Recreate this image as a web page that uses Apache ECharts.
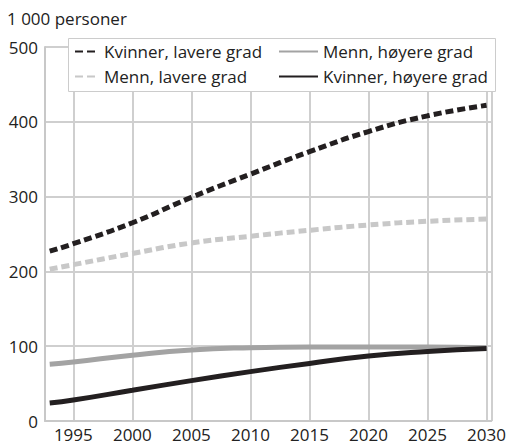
<!DOCTYPE html>
<html><head><meta charset="utf-8">
<script src="https://cdn.jsdelivr.net/npm/echarts@6/dist/echarts.min.js"></script>
<style>html,body{margin:0;padding:0;background:#fff}#c{width:509px;height:447px}</style>
</head><body><div id="c"></div>
<script>
const years = [1993, 1995, 2000, 2005, 2010, 2015, 2020, 2025, 2030];
const kvinnerLavere = [227, 237, 265, 299, 330, 360, 387, 408, 422];
const mennLavere = [203, 209, 224, 238, 247, 255, 262, 267, 270];
const mennHoyere = [76, 79, 88, 95, 98, 99, 99, 99, 98];
const kvinnerHoyere = [24, 28, 41, 54, 66, 77, 87, 93, 97];
const xRange = [1992.6, 2030.4];
const xStep = 5;
const yTicks = [0, 100, 200, 300, 400, 500];

const pair = arr => years.map((y, i) => [y, arr[i]]);
const font = '"Open Sans", sans-serif';
const chart = echarts.init(document.getElementById('c'), null, { renderer: 'svg' });
const mk = (name, data, color, type) => ({
  name, type: 'line', data: pair(data), smooth: true, symbol: 'none',
  lineStyle: { color, width: 5, type: type, cap: 'butt' },
  itemStyle: { color }
});
const legTxt = { fontSize: 17, color: '#222', fontFamily: font };
const gridLine = () => ({ show: true, lineStyle: { color: '#cfcfcf', width: 2 } });
chart.setOption({
  animation: false,
  textStyle: { fontFamily: font },
  title: { text: '1 000 personer', left: 7, top: 10, padding: 0, textStyle: { fontSize: 17, fontWeight: 'normal', color: '#222', fontFamily: font } },
  grid: { left: 45, right: 14, top: 47, bottom: 26 },
  graphic: [{ type: 'rect', left: 68, top: 38, shape: { width: 427, height: 53 }, style: { fill: '#fff', stroke: '#ccc', lineWidth: 1 }, z: 50 }],
  legend: [
    { data: ['Kvinner, lavere grad', 'Menn, lavere grad'], orient: 'vertical', left: 74, top: 43, padding: 0, itemWidth: 24, itemHeight: 14, itemGap: 8, z: 60,
      itemStyle: { opacity: 0 }, textStyle: legTxt },
    { data: ['Menn, høyere grad', 'Kvinner, høyere grad'], orient: 'vertical', left: 278, top: 43, padding: 0, itemWidth: 39, itemHeight: 14, itemGap: 8, z: 60,
      itemStyle: { opacity: 0 }, textStyle: legTxt }
  ],
  xAxis: {
    type: 'value', min: xRange[0], max: xRange[1], minInterval: xStep, maxInterval: xStep,
    axisLine: { show: true, lineStyle: { color: '#c8c8c8', width: 2 } },
    axisTick: { show: false },
    axisLabel: { fontSize: 17, color: '#222', fontFamily: font, margin: 5, showMinLabel: false, showMaxLabel: false,
      formatter: v => (v % xStep === 0 ? String(v) : '') },
    splitLine: gridLine()
  },
  yAxis: {
    type: 'value', min: yTicks[0], max: yTicks[yTicks.length - 1], interval: 100,
    axisLine: { show: true, lineStyle: { color: '#c8c8c8', width: 2 } },
    axisTick: { show: false },
    axisLabel: { fontSize: 17, color: '#222', fontFamily: font, margin: 7 },
    splitLine: gridLine()
  },
  series: [
    mk('Kvinner, lavere grad', kvinnerLavere, '#231f20', [8, 4]),
    mk('Menn, lavere grad', mennLavere, '#c8c8c8', [8, 4]),
    mk('Menn, høyere grad', mennHoyere, '#a3a3a3', 'solid'),
    mk('Kvinner, høyere grad', kvinnerHoyere, '#231f20', 'solid')
  ]
});
</script></body></html>
